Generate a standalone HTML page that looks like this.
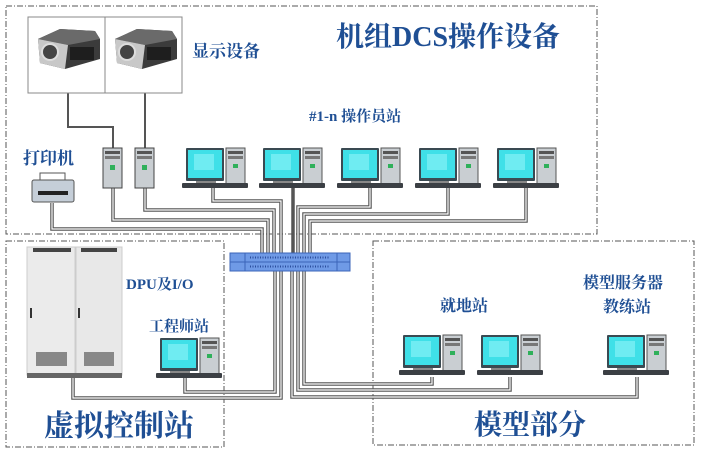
<!DOCTYPE html>
<html><head><meta charset="utf-8"><style>
html,body{margin:0;padding:0;background:#fff;width:701px;height:456px;overflow:hidden}
text{font-family:"Liberation Serif","Noto Serif CJK SC",serif;fill:#1f4f94;font-weight:bold}
</style></head><body>
<svg width="701" height="456" viewBox="0 0 701 456" xmlns="http://www.w3.org/2000/svg">
<defs>
<g id="pc">
<rect x="0" y="0" width="38" height="33" fill="#3a4a52" rx="1"/>
<rect x="2" y="2" width="34" height="28" fill="#3fe0e8"/>
<rect x="8" y="6" width="20" height="16" fill="#8ff4f8" opacity="0.6"/>
<rect x="40" y="0" width="19" height="38" fill="#c9ced2" stroke="#555" stroke-width="1"/>
<rect x="42" y="3" width="15" height="3" fill="#555"/>
<rect x="42" y="8" width="15" height="3" fill="#777"/>
<rect x="47" y="16" width="5" height="4" fill="#2fb05a"/>
<rect x="-4" y="35" width="66" height="5" fill="#3b3f44" rx="1"/>
<rect x="10" y="33" width="20" height="2" fill="#888"/>
</g>
<g id="tw">
<rect x="0" y="0" width="19" height="40" fill="#c9ced2" stroke="#444" stroke-width="1"/>
<rect x="2" y="3" width="15" height="3" fill="#555"/>
<rect x="2" y="8" width="15" height="3" fill="#777"/>
<rect x="7" y="17" width="5" height="5" fill="#2fb05a"/>
</g>
<g id="proj">
<path d="M8 22 L30 12 L65 14 L70 22 L70 42 L35 52 L10 46 Z" fill="#3b3b3b"/>
<path d="M8 22 L30 12 L65 14 L70 22 L38 28 Z" fill="#6a6a6a"/>
<path d="M8 22 L38 28 L35 52 L10 46 Z" fill="#c8c8c8"/>
<circle cx="20" cy="35" r="8" fill="#444" stroke="#ddd" stroke-width="2"/>
<rect x="40" y="30" width="24" height="13" fill="#1e1e1e"/>
</g>
</defs>
<g fill="none" stroke="#555" stroke-width="1" stroke-dasharray="6,2,1,2">
<rect x="6" y="6" width="591" height="228"/>
<rect x="6" y="241" width="218" height="206"/>
<rect x="373" y="241" width="321" height="204"/>
</g>
<g fill="none" stroke="#555" stroke-width="2">
<polyline points="68,92 68,127 113,127 113,148"/>
<polyline points="145,92 145,148"/>
</g>
<g fill="none" stroke="#555" stroke-width="3.5">
<polyline points="113,188 113,220 268,220 268,253"/>
<polyline points="145,188 145,210 274,210 274,253"/>
<polyline points="52,203 52,229 262,229 262,253"/>
<polyline points="213,185 213,201 281,201 281,253"/>
<polyline points="293,185 293,253"/>
<polyline points="370,185 370,207 298,207 298,253"/>
<polyline points="448,185 448,214 304,214 304,253"/>
<polyline points="526,185 526,221 310,221 310,253"/>
<polyline points="73,378 73,398 281,398 281,271"/>
<polyline points="185,377 185,392 275,392 275,271"/>
<polyline points="432,377 432,384 304,384 304,271"/>
<polyline points="510,377 510,390 298,390 298,271"/>
<polyline points="637,377 637,397 292,397 292,271"/>
</g>
<g fill="none" stroke="#fff" stroke-width="1.2">
<polyline points="113,188 113,220 268,220 268,253"/>
<polyline points="145,188 145,210 274,210 274,253"/>
<polyline points="52,203 52,229 262,229 262,253"/>
<polyline points="213,185 213,201 281,201 281,253"/>
<polyline points="370,185 370,207 298,207 298,253"/>
<polyline points="448,185 448,214 304,214 304,253"/>
<polyline points="526,185 526,221 310,221 310,253"/>
<polyline points="73,378 73,398 281,398 281,271"/>
<polyline points="185,377 185,392 275,392 275,271"/>
<polyline points="432,377 432,384 304,384 304,271"/>
<polyline points="510,377 510,390 298,390 298,271"/>
<polyline points="637,377 637,397 292,397 292,271"/>
</g>
<rect x="230" y="253" width="120" height="18" fill="#6f9ae6" stroke="#3b64b8"/>
<line x1="230" y1="262" x2="350" y2="262" stroke="#3b64b8"/>
<line x1="245" y1="253" x2="245" y2="271" stroke="#3b64b8"/>
<line x1="337" y1="253" x2="337" y2="271" stroke="#3b64b8"/>
<line x1="250" y1="257.5" x2="330" y2="257.5" stroke="#2a4c9c" stroke-dasharray="1,1.5" stroke-width="2"/>
<line x1="250" y1="266.5" x2="330" y2="266.5" stroke="#2a4c9c" stroke-dasharray="1,1.5" stroke-width="2"/>
<rect x="28" y="17" width="154" height="76" fill="#fff" stroke="#888"/>
<line x1="105" y1="17" x2="105" y2="93" stroke="#888"/>
<use href="#proj" x="30" y="17"/>
<use href="#proj" x="107" y="17"/>
<use href="#tw" x="103" y="148"/>
<use href="#tw" x="135" y="148"/>
<rect x="40" y="173" width="25" height="8" fill="#fff" stroke="#555"/>
<rect x="32" y="180" width="42" height="22" fill="#c5ced8" stroke="#555" rx="2"/>
<rect x="38" y="191" width="30" height="4" fill="#222"/>
<use href="#pc" x="186" y="148"/>
<use href="#pc" x="263" y="148"/>
<use href="#pc" x="341" y="148"/>
<use href="#pc" x="419" y="148"/>
<use href="#pc" x="497" y="148"/>
<use href="#pc" x="160" y="338"/>
<use href="#pc" x="403" y="335"/>
<use href="#pc" x="481" y="335"/>
<use href="#pc" x="607" y="335"/>
<rect x="27" y="247" width="48" height="128" fill="#ebebeb" stroke="#ccc"/>
<rect x="76" y="247" width="46" height="128" fill="#e8e8e8" stroke="#ccc"/>
<rect x="33" y="248" width="38" height="4" fill="#444"/>
<rect x="81" y="248" width="36" height="4" fill="#444"/>
<rect x="30" y="308" width="2" height="10" fill="#333"/>
<rect x="78" y="308" width="2" height="10" fill="#333"/>
<rect x="36" y="352" width="31" height="14" fill="#888"/>
<rect x="84" y="352" width="30" height="14" fill="#888"/>
<rect x="27" y="373" width="95" height="5" fill="#666"/>
<text x="192" y="57" font-size="17">显示设备</text>
<text x="336" y="46" font-size="28">机组DCS操作设备</text>
<text x="309" y="121" font-size="15">#1-n 操作员站</text>
<text x="23" y="164" font-size="17">打印机</text>
<text x="126" y="289" font-size="15">DPU及I/O</text>
<text x="149" y="331" font-size="15">工程师站</text>
<text x="44" y="436" font-size="30">虚拟控制站</text>
<text x="440" y="311" font-size="16">就地站</text>
<text x="583" y="288" font-size="16">模型服务器</text>
<text x="603" y="312" font-size="16">教练站</text>
<text x="474" y="434" font-size="28">模型部分</text>
</svg>
</body></html>
